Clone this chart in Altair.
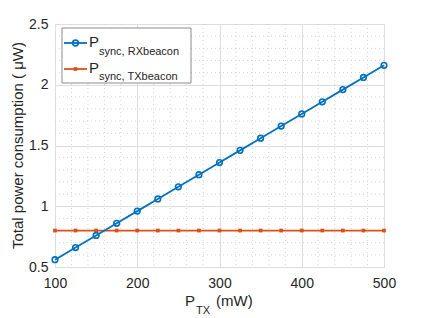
import altair as alt
import pandas as pd

# ---- data ----
p_tx = [100, 125, 150, 175, 200, 225, 250, 275, 300, 325, 350, 375, 400, 425, 450, 475, 500]
rx_beacon = [0.56, 0.66, 0.76, 0.86, 0.96, 1.06, 1.16, 1.26, 1.36, 1.46, 1.56, 1.66, 1.76, 1.86, 1.96, 2.06, 2.16]
tx_beacon = [0.80, 0.80, 0.80, 0.80, 0.80, 0.80, 0.80, 0.80, 0.80, 0.80, 0.80, 0.80, 0.80, 0.80, 0.80, 0.80, 0.80]
x_ticks = [100, 200, 300, 400, 500]
y_ticks = [0.5, 1.0, 1.5, 2.0, 2.5]
x_minor = [120, 140, 160, 180, 220, 240, 260, 280, 320, 340, 360, 380, 420, 440, 460, 480]
y_minor = [0.6, 0.7, 0.8, 0.9, 1.1, 1.2, 1.3, 1.4, 1.6, 1.7, 1.8, 1.9, 2.1, 2.2, 2.3, 2.4]

BLUE = "#0072BD"
ORANGE = "#D95319"
TXT = "#262626"
FONT = "Liberation Sans"

df_rx = pd.DataFrame({"x": p_tx, "y": rx_beacon})
df_tx = pd.DataFrame({"x": p_tx, "y": tx_beacon})

xs = alt.Scale(domain=[100, 500], nice=False, zero=False)
ys = alt.Scale(domain=[0.5, 2.5], nice=False, zero=False)

x_axis = alt.Axis(values=x_ticks, title=None, grid=True, gridColor="#dedede", domain=False,
                  tickSize=0, labelPadding=9, labelFontSize=14, labelColor=TXT, labelFont=FONT,
                  labelFlush=False, labelOverlap=False, format="d")
y_axis = alt.Axis(values=y_ticks, title=None, grid=True, gridColor="#dedede", domain=False,
                  tickSize=0, labelPadding=7, labelFontSize=14, labelColor=TXT, labelFont=FONT,
                  labelFlush=False, labelOverlap=False, labelExpr="datum.value == 1 ? '1' : datum.value == 2 ? '2' : format(datum.value, '.1f')")

base_axes = alt.Chart(df_rx).mark_point(opacity=0).encode(
    x=alt.X("x:Q", scale=xs, axis=x_axis),
    y=alt.Y("y:Q", scale=ys, axis=y_axis),
)

xminor = alt.Chart(pd.DataFrame({"v": x_minor})).mark_rule(
    color="#d4d4d4", strokeDash=[1, 3], strokeWidth=1
).encode(x=alt.X("v:Q", scale=xs))
yminor = alt.Chart(pd.DataFrame({"v": y_minor})).mark_rule(
    color="#d4d4d4", strokeDash=[1, 3], strokeWidth=1
).encode(y=alt.Y("v:Q", scale=ys))

line_rx = alt.Chart(df_rx).mark_line(color=BLUE, strokeWidth=1.8).encode(
    x=alt.X("x:Q", scale=xs), y=alt.Y("y:Q", scale=ys))
pts_rx = alt.Chart(df_rx).mark_point(color=BLUE, filled=False, shape="circle", size=32,
                                     strokeWidth=1.6, opacity=1).encode(
    x=alt.X("x:Q", scale=xs), y=alt.Y("y:Q", scale=ys))
line_tx = alt.Chart(df_tx).mark_line(color=ORANGE, strokeWidth=1.8).encode(
    x=alt.X("x:Q", scale=xs), y=alt.Y("y:Q", scale=ys))
pts_tx = alt.Chart(df_tx).mark_point(color=ORANGE, filled=True, shape="square", size=14,
                                     opacity=1).encode(
    x=alt.X("x:Q", scale=xs), y=alt.Y("y:Q", scale=ys))

one = pd.DataFrame({"a": [0]})

def txt(s, x, y, size, angle=0, align="left", baseline="alphabetic"):
    return alt.Chart(one).mark_text(text=s, font=FONT, fontSize=size, color=TXT, align=align,
                                    baseline=baseline, angle=angle).encode(
        x=alt.value(x), y=alt.value(y))

# legend
leg_box = alt.Chart(one).mark_rect(fill="white", stroke="#8c8c8c", strokeWidth=1).encode(
    x=alt.value(7), x2=alt.value(136), y=alt.value(4), y2=alt.value(59))
leg_l1 = alt.Chart(one).mark_rule(color=BLUE, strokeWidth=1.8).encode(
    x=alt.value(9), x2=alt.value(32), y=alt.value(19))
leg_m1 = alt.Chart(one).mark_point(color=BLUE, filled=False, shape="circle", size=32,
                                   strokeWidth=1.6, opacity=1).encode(x=alt.value(20.5), y=alt.value(19))
leg_l2 = alt.Chart(one).mark_rule(color=ORANGE, strokeWidth=1.8).encode(
    x=alt.value(9), x2=alt.value(32), y=alt.value(45))
leg_m2 = alt.Chart(one).mark_point(color=ORANGE, filled=True, shape="square", size=14,
                                   opacity=1).encode(x=alt.value(20.5), y=alt.value(45))
leg_t = [
    txt("P", 34, 23, 15), txt("sync, RXbeacon", 44, 31, 11),
    txt("P", 34, 49, 15), txt("sync, TXbeacon", 44, 56, 11),
]

# axis titles
xt = [txt("P", 130, 282, 15), txt("TX", 141, 290, 11), txt("(mW)", 161, 282, 15)]
yt = txt("Total power consumption ( μW)", -37, 121.5, 15, angle=270, align="center", baseline="middle")

chart = alt.layer(
    base_axes, xminor, yminor, line_tx, pts_tx, line_rx, pts_rx,
    leg_box, leg_l1, leg_m1, leg_l2, leg_m2, *leg_t, *xt, yt
).properties(
    width=329, height=243,
    autosize=alt.AutoSizeParams(type="none"),
    padding={"left": 47, "top": 16, "right": 20, "bottom": 51},
).configure_view(stroke="#8c8c8c", strokeWidth=1).configure(background="white")

chart.save("out.html", embed_options={"renderer": "svg", "actions": False})
